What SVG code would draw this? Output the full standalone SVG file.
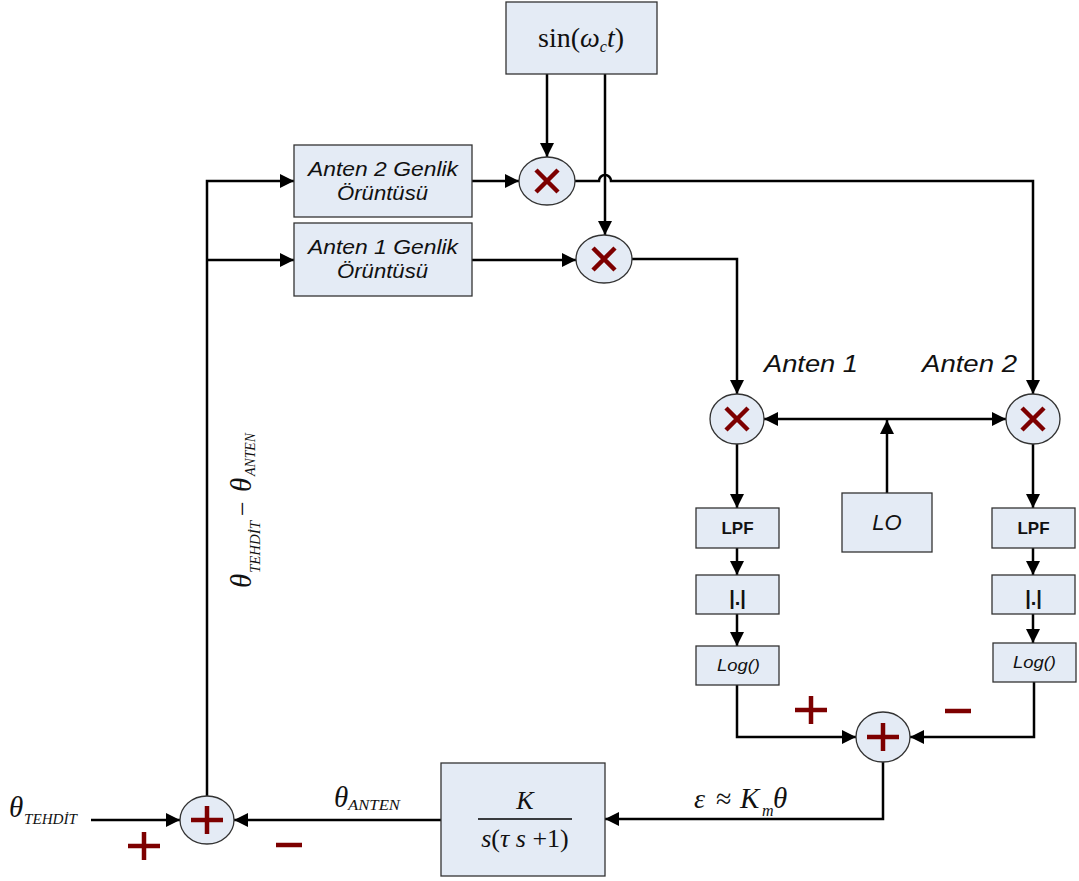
<svg xmlns="http://www.w3.org/2000/svg" width="1079" height="881" viewBox="0 0 1079 881">
<defs>
<marker id="ah" markerUnits="userSpaceOnUse" markerWidth="15" markerHeight="15" refX="14" refY="7.5" orient="auto">
<path d="M0,0.5 L14,7.5 L0,14.5 z" fill="#000"/>
</marker>
<style>
.box{fill:#e4ebf5;stroke:#333;stroke-width:1.3}
.op{fill:#e4ebf5;stroke:#333;stroke-width:1.3}
.sym{stroke:#7d0000;stroke-width:4.5;fill:none;stroke-linecap:butt}
.ln{fill:none;stroke:#000;stroke-width:2.5}
.arr{marker-end:url(#ah)}
.lab{font-family:"Liberation Sans",Arial,sans-serif;font-style:italic;fill:#111}
.bl{font-family:"Liberation Sans",Arial,sans-serif;font-weight:bold;fill:#111}
.mt{font-family:"Liberation Serif","Times New Roman",serif;fill:#111}
.it{font-style:italic}
</style>
</defs>
<rect width="1079" height="881" fill="#fff"/>

<g id="connectors">
<path class="ln arr" d="M547,74 V157"/>
<path class="ln arr" d="M605,74 V235"/>
<path class="ln arr" d="M472,181 H519"/>
<path class="ln arr" d="M472,260 H576"/>
<path class="ln arr" d="M575,181 H599 A6,6 0 0 1 611,181 H1033 V394"/>
<path class="ln arr" d="M632,259 H737 V394"/>
<path class="ln arr" d="M887,493 V420"/>
<path class="ln arr" d="M887,419 H764"/>
<path class="ln arr" d="M887,419 H1006"/>
<path class="ln arr" d="M737,444 V508"/>
<path class="ln arr" d="M737,548 V575"/>
<path class="ln arr" d="M737,614 V646"/>
<path class="ln arr" d="M1033,444 V508"/>
<path class="ln arr" d="M1033,548 V575"/>
<path class="ln arr" d="M1033,614 V643"/>
<path class="ln arr" d="M737,685 V737 H856"/>
<path class="ln arr" d="M1034,682 V737 H910"/>
<path class="ln arr" d="M883,762 V819 H605"/>
<path class="ln arr" d="M441,820 H234"/>
<path class="ln arr" d="M91,820 H180"/>
<path class="ln arr" d="M207,797 V181 H294"/>
<path class="ln arr" d="M207,260 H294"/>
</g>

<g id="sin">
<rect class="box" x="506" y="2" width="151" height="72"/>
<text class="mt" x="538" y="47" font-size="28">sin(<tspan class="it">ω</tspan><tspan class="it" font-size="16" dy="5">c</tspan><tspan class="it" dy="-5">t</tspan>)</text>
</g>

<g id="anten2pattern">
<rect class="box" x="294" y="145" width="178" height="72"/>
<text class="lab" x="308" y="176" font-size="20" textLength="150" lengthAdjust="spacingAndGlyphs">Anten 2 Genlik</text>
<text class="lab" x="337" y="200" font-size="20" textLength="91" lengthAdjust="spacingAndGlyphs">Örüntüsü</text>
</g>

<g id="anten1pattern">
<rect class="box" x="294" y="223" width="178" height="73"/>
<text class="lab" x="308" y="254" font-size="20" textLength="150" lengthAdjust="spacingAndGlyphs">Anten 1 Genlik</text>
<text class="lab" x="337" y="278" font-size="20" textLength="91" lengthAdjust="spacingAndGlyphs">Örüntüsü</text>
</g>

<g id="mult1">
<ellipse class="op" cx="547" cy="181" rx="28" ry="24"/>
<path class="sym" d="M536,170 L558,192 M558,170 L536,192"/>
</g>

<g id="mult2">
<ellipse class="op" cx="604" cy="259" rx="28" ry="24"/>
<path class="sym" d="M593,248 L615,270 M615,248 L593,270"/>
</g>

<g id="mixer1">
<ellipse class="op" cx="737" cy="419" rx="27" ry="25"/>
<path class="sym" d="M726,408 L748,430 M748,408 L726,430"/>
</g>

<g id="mixer2">
<ellipse class="op" cx="1033" cy="419" rx="27" ry="25"/>
<path class="sym" d="M1022,408 L1044,430 M1044,408 L1022,430"/>
</g>

<g id="labels-anten">
<text class="lab" x="764" y="372" font-size="23" textLength="94" lengthAdjust="spacingAndGlyphs">Anten 1</text>
<text class="lab" x="922" y="372" font-size="23" textLength="95" lengthAdjust="spacingAndGlyphs">Anten 2</text>
</g>

<g id="lo">
<rect class="box" x="842" y="493" width="90" height="59"/>
<text class="lab" x="887" y="530" font-size="22" text-anchor="middle">LO</text>
</g>

<g id="lpf1">
<rect class="box" x="696" y="508" width="83" height="40"/>
<text class="bl" x="737.5" y="534" font-size="17" text-anchor="middle">LPF</text>
</g>
<g id="abs1">
<rect class="box" x="696" y="575" width="83" height="39"/>
<text class="bl" x="737.5" y="605" font-size="20" text-anchor="middle">|.|</text>
</g>
<g id="log1">
<rect class="box" x="696" y="646" width="83" height="39"/>
<text class="lab" x="717" y="671" font-size="16" textLength="43" lengthAdjust="spacingAndGlyphs">Log()</text>
</g>

<g id="lpf2">
<rect class="box" x="992" y="508" width="83" height="40"/>
<text class="bl" x="1033.5" y="534" font-size="17" text-anchor="middle">LPF</text>
</g>
<g id="abs2">
<rect class="box" x="992" y="575" width="83" height="39"/>
<text class="bl" x="1033.5" y="605" font-size="20" text-anchor="middle">|.|</text>
</g>
<g id="log2">
<rect class="box" x="993" y="643" width="83" height="39"/>
<text class="lab" x="1013" y="668" font-size="16" textLength="43" lengthAdjust="spacingAndGlyphs">Log()</text>
</g>

<g id="sum1">
<ellipse class="op" cx="883" cy="737" rx="27" ry="25"/>
<path class="sym" d="M867,737 H899 M883,723 V751" stroke-width="5"/>
<path class="sym" d="M795,710 H827 M811,696 V724" stroke-width="5"/>
<path class="sym" d="M945,711 H971" stroke-width="5"/>
</g>

<g id="controller">
<rect class="box" x="441" y="763" width="164" height="113"/>
<text class="mt it" x="525" y="809" font-size="26" text-anchor="middle">K</text>
<line x1="478" y1="819" x2="572" y2="819" stroke="#000" stroke-width="1.5"/>
<text class="mt" x="525" y="847" font-size="26" text-anchor="middle"><tspan class="it">s</tspan>(<tspan class="it">τ s</tspan> +1)</text>
</g>

<g id="sum2">
<ellipse class="op" cx="207" cy="820" rx="27" ry="24"/>
<path class="sym" d="M191,820 H223 M207,806 V834" stroke-width="5"/>
<path class="sym" d="M128,846 H160 M144,832 V860" stroke-width="5"/>
<path class="sym" d="M276,845 H302" stroke-width="5"/>
</g>

<g id="signal-labels">
<text class="mt it" font-size="29"><tspan x="9" y="817">θ</tspan><tspan x="24" y="824" font-size="14" textLength="53" lengthAdjust="spacingAndGlyphs">TEHDİT</tspan></text>
<text class="mt it" font-size="29"><tspan x="334" y="807">θ</tspan><tspan x="348" y="810" font-size="14" textLength="52" lengthAdjust="spacingAndGlyphs">ANTEN</tspan></text>
<text class="mt" font-size="28"><tspan class="it" x="694" y="808">ε</tspan><tspan x="716" y="808">≈</tspan><tspan class="it" x="740" y="808" font-size="29">K</tspan><tspan class="it" x="762" y="816" font-size="16">m</tspan><tspan class="it" x="773" y="808" font-size="29">θ</tspan></text>
<text class="mt it" transform="translate(251,588) rotate(-90)" font-size="29"><tspan x="0" y="0">θ</tspan><tspan x="15" y="9" font-size="14" textLength="52" lengthAdjust="spacingAndGlyphs">TEHDİT</tspan><tspan x="72" y="0" font-style="normal" font-size="26">−</tspan><tspan x="96" y="0">θ</tspan><tspan x="112" y="4" font-size="14" textLength="43" lengthAdjust="spacingAndGlyphs">ANTEN</tspan></text>
</g>
</svg>
